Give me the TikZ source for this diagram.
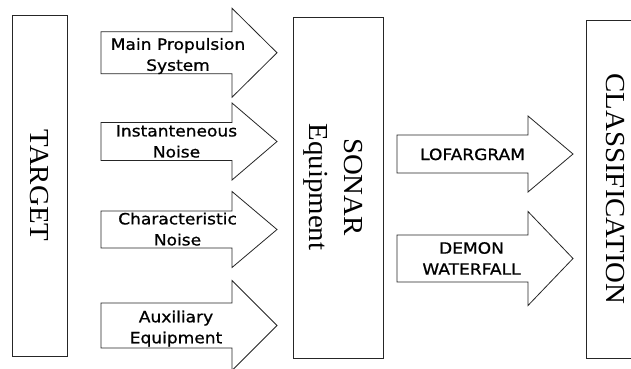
\documentclass[tikz,border=0pt]{standalone}
\usepackage{fontspec}
\setmainfont{Liberation Serif}[FakeStretch=1.05]
\newfontfamily\lblfont[FakeStretch=1.1,FakeBold=0.8]{DejaVu Sans}

% block arrow: body left x, head base x, tip x, centre y, body half height, head half height
\newcommand\blockarrow[6]{%
  \draw[blockarrow] (#1,#4-#5) -- (#2,#4-#5) -- (#2,#4-#6) -- (#3,#4)
    -- (#2,#4+#6) -- (#2,#4+#5) -- (#1,#4+#5) -- cycle;}

\begin{document}
\begin{tikzpicture}[x=1pt,y=-1pt,
  box/.style={draw=black!85, line width=0.9pt, inner sep=0pt},
  blockarrow/.style={draw=black!85, line width=0.8pt, fill=white, line join=miter},
  boxtext/.style={rotate=-90, font=\fontsize{27.5}{35}\selectfont, text=black,
    inner sep=0pt, align=center},
  arrowtext/.style={font={\lblfont\fontsize{15.5}{21}\selectfont}, text=black,
    inner sep=0pt, align=center}]
\clip (0,0) rectangle (631,368);
\fill[white] (0,0) rectangle (631,368);

% source, receiver and result blocks
\node[box, boxtext, minimum width=341pt, minimum height=55pt] (target) at (39.5,185.5) {TARGET};
\node[box, minimum width=90pt, minimum height=341pt] (sonar) at (338,187.5) {};
\node[boxtext] (sonartext) at (333.5,187) {SONAR\\Equipment};
\node[box, boxtext, minimum width=338pt, minimum height=58pt] (classif) at (615,189) {CLASSIFICATION};

% noise sources radiated by the target
\blockarrow{101}{232}{277}{52.75}{21}{44.5}
\blockarrow{101}{232}{277}{141.5}{19}{38.5}
\blockarrow{101}{232}{277}{229.5}{18.5}{38}
\blockarrow{101}{232}{277}{325.5}{22.5}{45}
\node[arrowtext] (mainprop) at (178,56) {Main Propulsion\\System};
\node[arrowtext] (instant) at (176.5,141.4) {Instanteneous\\Noise};
\node[arrowtext] (charact) at (177.5,229.1) {Characteristic\\Noise};
\node[arrowtext] (auxil) at (176,328.5) {Auxiliary\\Equipment};

% sonar displays feeding classification
\blockarrow{397}{528}{573}{154}{19}{38}
\blockarrow{397}{528}{573}{258.5}{23.5}{47}
\node[arrowtext, anchor=base] (lofar) at (472.5,160) {LOFARGRAM};
\node[arrowtext] (demon) at (471.5,258.4) {DEMON\\WATERFALL};
\end{tikzpicture}
\end{document}
